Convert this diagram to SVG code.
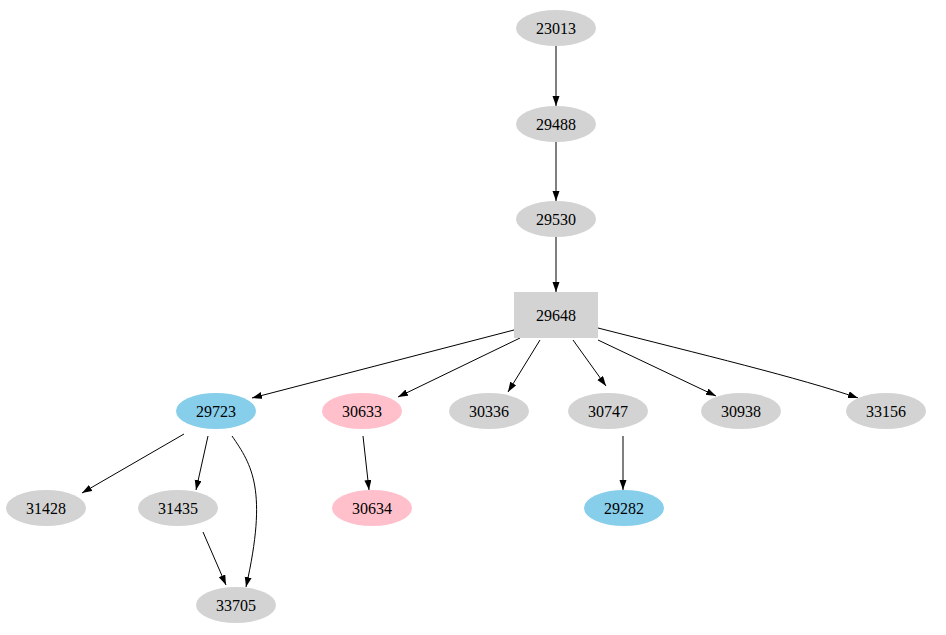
<svg xmlns="http://www.w3.org/2000/svg" width="946" height="635" viewBox="0 0 946 635">
<style>
text{font-family:"Liberation Serif",serif;font-size:16px;text-anchor:middle;dominant-baseline:central;fill:#000}
.g{fill:#d3d3d3}.b{fill:#87ceeb}.p{fill:#ffc0cb}
.e path{fill:none;stroke:#000;stroke-width:1;marker-end:url(#a)}
</style>
<defs><marker id="a" markerUnits="userSpaceOnUse" markerWidth="10" markerHeight="8" refX="10" refY="3.5" orient="auto"><path d="M0,0L10,3.5L0,7z" fill="#000"/></marker></defs>
<g class="e">
<path d="M556,46V106"/><path d="M556,142V201"/><path d="M556,237V292"/>
<path d="M514,330L252,398"/><path d="M520,338L398,397"/><path d="M540,340L508,392"/>
<path d="M573,340L606,386"/><path d="M598,340L716,396"/>
<path d="M598,328C700,354 800,378 858,398"/>
<path d="M184,434L82,493"/><path d="M208,436L196,490"/>
<path d="M232,436C252,465 268,490 246,587"/>
<path d="M203,532L226,585"/><path d="M363,436L369,490"/><path d="M623,436V490"/>
</g>
<g id="n23013"><ellipse class="g" cx="556" cy="28" rx="40" ry="18"/><text x="556" y="28">23013</text></g>
<g id="n29488"><ellipse class="g" cx="556" cy="124" rx="40" ry="18"/><text x="556" y="124">29488</text></g>
<g id="n29530"><ellipse class="g" cx="556" cy="219" rx="40" ry="18"/><text x="556" y="219">29530</text></g>
<g id="n29648"><rect class="g" x="514" y="292" width="84" height="46"/><text x="556" y="315">29648</text></g>
<g id="n29723"><ellipse class="b" cx="216" cy="411" rx="40" ry="18"/><text x="216" y="411">29723</text></g>
<g id="n30633"><ellipse class="p" cx="362" cy="411" rx="40" ry="18"/><text x="362" y="411">30633</text></g>
<g id="n30336"><ellipse class="g" cx="489" cy="411" rx="40" ry="18"/><text x="489" y="411">30336</text></g>
<g id="n30747"><ellipse class="g" cx="608" cy="411" rx="40" ry="18"/><text x="608" y="411">30747</text></g>
<g id="n30938"><ellipse class="g" cx="741" cy="411" rx="40" ry="18"/><text x="741" y="411">30938</text></g>
<g id="n33156"><ellipse class="g" cx="886" cy="411" rx="40" ry="18"/><text x="886" y="411">33156</text></g>
<g id="n31428"><ellipse class="g" cx="46" cy="508" rx="40" ry="18"/><text x="46" y="508">31428</text></g>
<g id="n31435"><ellipse class="g" cx="178" cy="508" rx="40" ry="18"/><text x="178" y="508">31435</text></g>
<g id="n30634"><ellipse class="p" cx="372" cy="508" rx="40" ry="18"/><text x="372" y="508">30634</text></g>
<g id="n29282"><ellipse class="b" cx="624" cy="508" rx="40" ry="18"/><text x="624" y="508">29282</text></g>
<g id="n33705"><ellipse class="g" cx="236" cy="605" rx="40" ry="18"/><text x="236" y="605">33705</text></g>
</svg>
